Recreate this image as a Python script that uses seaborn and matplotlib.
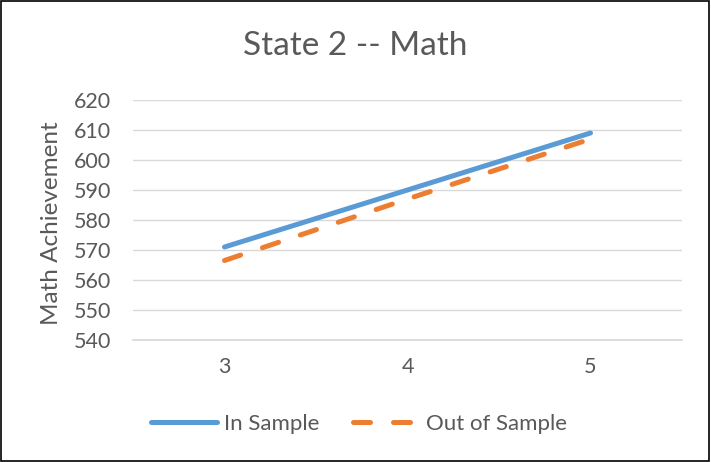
import matplotlib
matplotlib.use("Agg")
import matplotlib.pyplot as plt
import seaborn as sns
import pandas as pd

grades = [3, 4, 5]
in_sample = [571, 590, 609]
out_sample = [566.5, 587, 607]
yticks = [540, 550, 560, 570, 580, 590, 600, 610, 620]

sns.set_theme(style="white")
plt.rcParams['font.family'] = ['Lato', 'DejaVu Sans']

df = pd.DataFrame({
    "Grade": grades * 2,
    "Score": in_sample + out_sample,
    "Series": ["In Sample"] * 3 + ["Out of Sample"] * 3,
})
df["x"] = df["Grade"].map({g: i for i, g in enumerate(grades)})

fig = plt.figure(figsize=(7.11, 4.62), dpi=100)
ax = fig.add_axes([133/711, 1 - 340/462, (682-133)/711, 240/462])

blue = "#5B9BD5"
orange = "#ED7D31"
lw = 3.6
sns.lineplot(data=df[df.Series == "In Sample"], x="x", y="Score", ax=ax,
             color=blue, linewidth=lw, solid_capstyle="round", label="In Sample")
sns.lineplot(data=df[df.Series == "Out of Sample"], x="x", y="Score", ax=ax,
             color=orange, linewidth=lw, dashes=False, label="Out of Sample")
ax.lines[1].set_linestyle((0, (3.4, 4.6)))
ax.lines[1].set_dash_capstyle("round")

ax.set_xlim(-0.5, 2.5)
ax.set_ylim(540, 620)
ax.set_yticks(yticks)
ax.set_xticks(range(len(grades)))
ax.set_xticklabels([str(g) for g in grades])
ax.yaxis.grid(True, color="#D9D9D9", linewidth=1)
for s in ["top", "right", "left"]:
    ax.spines[s].set_visible(False)
ax.spines["bottom"].set_color("#D9D9D9")
ax.tick_params(axis="both", length=0, labelsize=15.5, colors="#595959")
ax.tick_params(axis="y", pad=16)
ax.tick_params(axis="x", pad=12)
ax.set_xlabel("")
ax.set_ylabel("Math Achievement", fontsize=17.5, color="#595959")
ax.yaxis.label.set_va("center")
ax.yaxis.set_label_coords((52 - 133) / 549, (340 - 223.5) / 240)
fig.text(355 / 711, 1 - 46 / 462, "State 2 -- Math", fontsize=24, color="#595959",
         ha="center", va="center")

leg = ax.legend(loc="center", bbox_to_anchor=((359 - 133) / 549, (340 - 424) / 240), ncol=2,
                frameon=False, fontsize=16, handlelength=3.0, columnspacing=1.5,
                handletextpad=0.3)
for t in leg.get_texts():
    t.set_color("#595959")

fig.patches.append(plt.Rectangle((0.002, 0.003), 0.995, 0.994, transform=fig.transFigure,
                                 fill=False, edgecolor="black", linewidth=1.2))
fig.savefig("out.png", dpi=100)
